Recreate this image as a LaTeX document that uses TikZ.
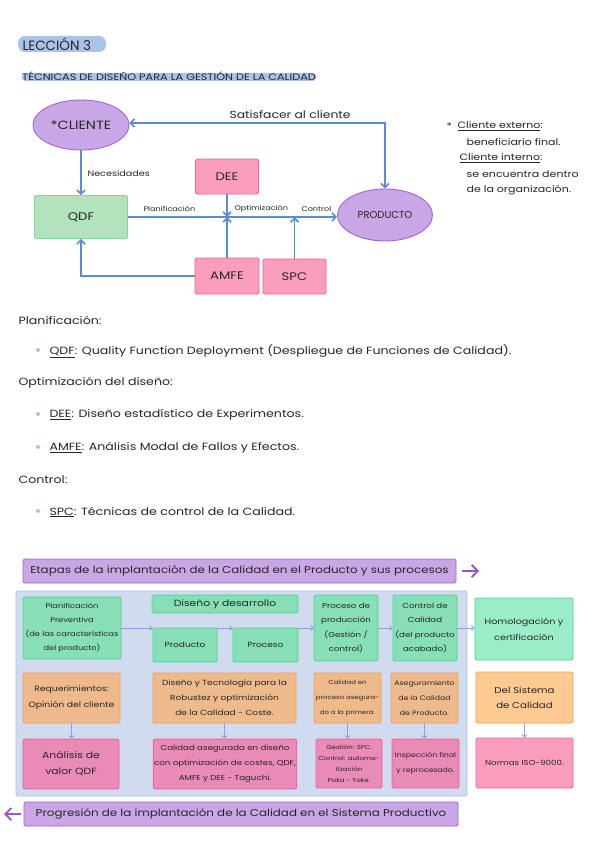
\documentclass[tikz,border=0pt]{standalone}
\usepackage{fontspec}
\setmainfont[FakeStretch=1.2]{Poppins}
\newfontfamily\plainfont{Poppins}
\usetikzlibrary{arrows.meta,shapes.geometric}
\definecolor{ink}{HTML}{262626}
\definecolor{hl}{HTML}{A9C3EA}
\definecolor{lavfill}{HTML}{C9A7E6}
\definecolor{lavline}{HTML}{A063D8}
\definecolor{lavarrow}{HTML}{9A55D2}
\definecolor{qdffill}{HTML}{B1E4BD}
\definecolor{qdfline}{HTML}{84D696}
\definecolor{pkfill}{HTML}{FB9EBE}
\definecolor{pkline}{HTML}{F06292}
\definecolor{conn}{HTML}{5B8BD6}
\definecolor{conn2}{HTML}{85A3E3}
\definecolor{bluefill}{HTML}{D0DBF0}
\definecolor{blueline}{HTML}{ADC2E9}
\definecolor{gnfill}{HTML}{86DFB6}
\definecolor{gnline}{HTML}{4DD68C}
\definecolor{gnfill2}{HTML}{9BECC8}
\definecolor{orfill}{HTML}{EEBA8C}
\definecolor{orline}{HTML}{F5A048}
\definecolor{orfill2}{HTML}{FDCA92}
\definecolor{pifill}{HTML}{EA8AB6}
\definecolor{piline}{HTML}{EE5B93}
\newcommand{\fs}[2]{\fontsize{#1}{#2}\selectfont}
\begin{document}
\begin{tikzpicture}[x=1pt,y=-1pt,
  every node/.style={text=ink},
  box/.style={draw, rounded corners=1.5pt, line width=0.9pt, inner sep=1pt, align=center},
  ellnode/.style={ellipse, draw=lavline, fill=lavfill, line width=0.9pt, inner sep=0pt},
  topgreen/.style={box, fill=qdffill, draw=qdfline, font=\fs{11}{13}},
  toppink/.style={box, fill=pkfill, draw=pkline, font=\fs{11}{13}},
  ingreen/.style={box, fill=gnfill, draw=gnline},
  outgreen/.style={box, fill=gnfill2, draw=gnline},
  inorange/.style={box, fill=orfill, draw=orline},
  outorange/.style={box, fill=orfill2, draw=orline},
  inpink/.style={box, fill=pifill, draw=piline},
  outpink/.style={box, fill=pkfill, draw=pkline},
  banner/.style={box, fill=lavfill, draw=lavline, font=\fs{9.9}{12}},
  mainconn/.style={draw=conn, line width=1.6pt, -{Straight Barb[length=4pt,width=8pt]}},
  smallconn/.style={draw=conn2, line width=0.9pt, -{Straight Barb[length=2.5pt,width=5pt]}},
  bigarrow/.style={draw=lavarrow, line width=1.8pt, -{Straight Barb[length=6pt,width=12pt]}},
  fbody/.style={font=\fs{10.5}{13}},
  fnote/.style={font=\fs{9.2}{11}},
  flab/.style={font=\fs{6.75}{8}},
  bullet/.style={circle, fill=hl, inner sep=0pt, minimum size=4pt}
]
\useasboundingbox (0,0) rectangle (599,848);
\fill[white] (0,0) rectangle (599,848);

% ---- header ----
\fill[hl, rounded corners=7pt] (18,36) rectangle (106,52);
\node[font=\plainfont\fs{13.5}{15}, anchor=west] (title) at (19,44) {LECCIÓN 3};
\fill[hl, rounded corners=3pt] (22,73) rectangle (316,81);
\node[font=\fs{9.4}{10}, anchor=west, inner sep=0pt] (subtitle) at (22,76) {TÉCNICAS DE DISEÑO PARA LA GESTIÓN DE LA CALIDAD};

% ---- top diagram ----
\node[ellnode, minimum width=96pt, minimum height=50pt, font=\fs{12}{14}] (cliente) at (81,125) {*CLIENTE};
\node[ellnode, minimum width=95pt, minimum height=52pt, font=\plainfont\fs{10}{12}] (producto) at (385,215) {PRODUCTO};
\node[topgreen, minimum width=93pt, minimum height=43pt] (qdf) at (81,217) {QDF};
\node[toppink, minimum width=63pt, minimum height=35pt] (dee) at (227,176.5) {DEE};
\node[toppink, minimum width=64pt, minimum height=36pt] (amfe) at (227,276) {AMFE};
\node[toppink, minimum width=63pt, minimum height=35pt] (spc) at (294.5,276.5) {SPC};
\coordinate (j1) at (227,217);
\coordinate (j2) at (294.5,217);

\draw[mainconn] (cliente.south) -- (qdf.north);
\draw[mainconn] (qdf.east) -- (qdf.east -| producto.west);
\draw[mainconn] (dee.south) -- (j1);
\draw[mainconn] (amfe.north) -- (j1);
\draw[mainconn] (spc.north) -- (j2);
\draw[mainconn] (amfe.west) -| (qdf.south);
\draw[mainconn, {Straight Barb[length=4pt,width=8pt]}-{Straight Barb[length=4pt,width=8pt]}] (cliente.east |- 0,123) -| (producto.north);

\node[font=\fs{8}{10}, anchor=west] (lnec) at (84,173) {Necesidades};
\node[flab, anchor=west] (lplan) at (140,209) {Planificación};
\node[flab, anchor=west] (lopt) at (231,209) {Optimización};
\node[flab, anchor=west] (lcon) at (298,209) {Control};
\node[font=\fs{10.3}{12}, anchor=west] (lsat) at (226,115) {Satisfacer al cliente};

% ---- side notes ----
\node[fnote, anchor=west] (n0) at (443,126) {*};
\node[fnote, anchor=west] (n1) at (454,126) {\underline{Cliente externo}:};
\node[fnote, anchor=west] (n2) at (463,142) {beneficiario final.};
\node[fnote, anchor=west] (n3) at (456,158) {\underline{Cliente interno}:};
\node[fnote, anchor=west] (n4) at (463,174) {se encuentra dentro};
\node[fnote, anchor=west] (n5) at (463,190) {de la organización.};

% ---- text list ----
\node[fbody, anchor=west] (t1) at (15,320) {Planificación:};
\node[bullet] (b1) at (38,350) {};
\node[fbody, anchor=west] (t2) at (46,351) {\underline{QDF}: Quality Function Deployment (Despliegue de Funciones de Calidad).};
\node[fbody, anchor=west] (t3) at (15,383) {Optimización del diseño:};
\node[bullet] (b2) at (38,414) {};
\node[fbody, anchor=west] (t4) at (46,415) {\underline{DEE}: Diseño estadístico de Experimentos.};
\node[bullet] (b3) at (38,447) {};
\node[fbody, anchor=west] (t5) at (46,448) {\underline{AMFE}: Análisis Modal de Fallos y Efectos.};
\node[fbody, anchor=west] (t6) at (15,480) {Control:};
\node[bullet] (b4) at (38,511) {};
\node[fbody, anchor=west] (t7) at (46,512) {\underline{SPC}: Técnicas de control de la Calidad.};

% ---- bottom scheme ----
\node[banner, minimum width=433pt, minimum height=24pt] (ban1) at (239.5,571) {Etapas de la implantación de la Calidad en el Producto y sus procesos};
\coordinate (a1s) at (462,571);
\coordinate (a1e) at (479,571);
\draw[bigarrow] (a1s) -- (a1e);

\node[box, fill=bluefill, draw=blueline, minimum width=451pt, minimum height=205pt] (panel) at (241.5,693.5) {};

\node[ingreen, minimum width=98pt, minimum height=62pt, font=\fs{6.9}{14}] (planif) at (72,628) {Planificación\\Preventiva\\(de las características\\del producto)};
\node[ingreen, minimum width=146pt, minimum height=18pt, font=\fs{9}{11}] (disdes) at (225,604) {Diseño y desarrollo};
\node[ingreen, minimum width=64pt, minimum height=34pt, font=\fs{7.5}{13}] (prod2) at (185,645) {Producto};
\node[ingreen, minimum width=65pt, minimum height=34pt, font=\fs{7.5}{13}] (proc2) at (265.5,645) {Proceso};
\node[ingreen, minimum width=64pt, minimum height=66pt, font=\fs{7.2}{14.5}] (procprod) at (346,628) {Proceso de\\producción\\(Gestión /\\control)};
\node[ingreen, minimum width=64pt, minimum height=66pt, font=\fs{7.2}{14.5}] (ctrl) at (425,628) {Control de\\Calidad\\(del producto\\acabado)};
\node[outgreen, minimum width=98pt, minimum height=62pt, font=\fs{8}{16}] (homol) at (524,629) {Homologación y\\certificación};

\draw[smallconn] (planif.east) -- (planif.east -| prod2.west);
\draw[smallconn] (prod2.east |- planif.east) -- (proc2.west |- planif.east);
\draw[smallconn] (proc2.east |- planif.east) -- (procprod.west);
\draw[smallconn] (procprod.east) -- (ctrl.west);
\draw[smallconn] (ctrl.east) -- (ctrl.east -| homol.west);

\node[inorange, minimum width=97pt, minimum height=50pt, font=\fs{7.7}{16}] (req) at (71.5,698) {Requerimientos:\\Opinión del cliente};
\node[inorange, minimum width=143pt, minimum height=50pt, font=\fs{7.5}{15}] (distec) at (224.5,698) {Diseño y Tecnología para la\\Robustez y optimización\\de la Calidad - Coste.};
\node[inorange, minimum width=67pt, minimum height=50pt, font=\fs{5.8}{15}] (calproc) at (347.5,698) {Calidad en\\proceso asegura-\\do a la primera.};
\node[inorange, minimum width=67pt, minimum height=50pt, font=\fs{6.5}{15}] (asegur) at (424.5,698) {Aseguramiento\\de la Calidad\\de Producto.};
\node[outorange, minimum width=97pt, minimum height=51pt, font=\fs{8.5}{15}] (delsis) at (524.5,697.5) {Del Sistema\\de Calidad};

\node[inpink, minimum width=96pt, minimum height=50pt, font=\fs{9}{16}] (anal) at (71,764) {Análisis de\\valor QDF};
\node[inpink, minimum width=142pt, minimum height=50pt, font=\fs{7.2}{15}] (calaseg) at (225,764) {Calidad asegurada en diseño\\con optimización de costes, QDF,\\AMFE y DEE - Taguchi.};
\node[inpink, minimum width=66pt, minimum height=49pt, font=\fs{5.8}{11}] (gest) at (349,763.5) {Gestión: SPC.\\Control: automa-\\tización\\Poka - Yoke.};
\node[inpink, minimum width=67pt, minimum height=49pt, font=\fs{6.5}{15}] (insp) at (425.5,763.5) {Inspección final\\y reprocesado.};
\node[outpink, minimum width=97pt, minimum height=50pt, font=\fs{7.2}{12}] (normas) at (524.5,763) {Normas ISO-9000.};

\draw[smallconn] (req.south) -- (anal.north -| req.south);
\draw[smallconn] (distec.south) -- (calaseg.north -| distec.south);
\draw[smallconn] (calproc.south) -- (gest.north -| calproc.south);
\draw[smallconn] (asegur.south) -- (insp.north -| asegur.south);
\draw[smallconn] (delsis.south) -- (normas.north -| delsis.south);

\node[banner, minimum width=434pt, minimum height=24pt] (ban2) at (241,814) {Progresión de la implantación de la Calidad en el Sistema Productivo};
\coordinate (a2s) at (21,814);
\coordinate (a2e) at (4,814);
\draw[bigarrow] (a2s) -- (a2e);
\end{tikzpicture}
\end{document}
